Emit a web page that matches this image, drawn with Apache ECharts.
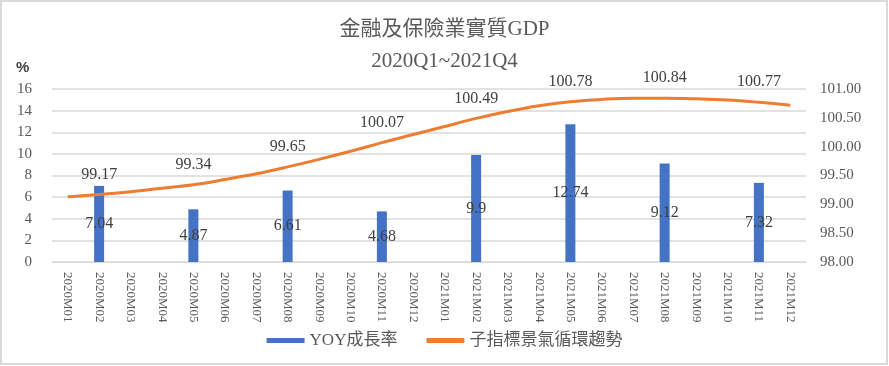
<!DOCTYPE html>
<html>
<head>
<meta charset="utf-8">
<script src="https://cdn.jsdelivr.net/npm/echarts@6/dist/echarts.min.js"></script>
<style>
html,body{margin:0;padding:0;background:#fff;}
#chart{width:889px;height:366px;}
</style>
</head>
<body>
<div id="chart"></div>
<script>
var categories = ['2020M01','2020M02','2020M03','2020M04','2020M05','2020M06','2020M07','2020M08','2020M09','2020M10','2020M11','2020M12',
                  '2021M01','2021M02','2021M03','2021M04','2021M05','2021M06','2021M07','2021M08','2021M09','2021M10','2021M11','2021M12'];
var yoyValues = [null,7.04,null,null,4.87,null,null,6.61,null,null,4.68,null,
                 null,9.9,null,null,12.74,null,null,9.12,null,null,7.32,null];
var cycleValues = [99.13,99.17,99.22,99.28,99.34,99.43,99.53,99.65,99.78,99.92,100.07,100.21,
                   100.35,100.49,100.61,100.71,100.78,100.82,100.84,100.84,100.83,100.81,100.77,100.72];
var cycleLabelIdx = [1,4,7,10,13,16,19,22];
var leftTicks = {min:0, max:16, interval:2};
var rightTicks = {min:98, max:101, interval:0.5};

var serif = '"Liberation Serif","DejaVu Serif",serif';
var textColor = '#595959';

var lineData = cycleValues.map(function(v,i){
  return {value:v, label:{show: cycleLabelIdx.indexOf(i) >= 0}};
});

var chart = echarts.init(document.getElementById('chart'));
chart.setOption({
  animation:false,
  graphic:[{
    type:'rect', shape:{x:1,y:1,width:886,height:363},
    style:{fill:'none', stroke:'#d9d9d9', lineWidth:2}, silent:true
  },{
    type:'text', left:16, top:60,
    style:{text:'%', font:'bold 15px "Liberation Sans",sans-serif', fill:'#404040'}
  }],
  title:{
    text:'金融及保險業實質GDP\n2020Q1~2021Q4',
    left:'center', top:8,
    textStyle:{fontFamily:'"Liberation Serif","Noto Sans CJK TC",serif', fontSize:21, fontWeight:'normal', color:textColor, lineHeight:32}
  },
  legend:{
    bottom:12, left:'center', itemGap:29, itemWidth:38, itemHeight:5,
    textStyle:{fontFamily:'"Liberation Serif","Noto Sans CJK TC",serif', fontSize:17, color:textColor},
    data:[{name:'YOY成長率', icon:'rect'},{name:'子指標景氣循環趨勢', icon:'roundRect'}]
  },
  grid:{left:52, right:83, top:89, bottom:104},
  xAxis:{
    type:'category', data:categories,
    axisLine:{lineStyle:{color:'#d9d9d9'}},
    axisTick:{show:false},
    axisLabel:{rotate:-90, interval:0, fontFamily:serif, fontSize:13, color:textColor, margin:10}
  },
  yAxis:[{
    type:'value', min:leftTicks.min, max:leftTicks.max, interval:leftTicks.interval,
    axisLabel:{fontFamily:serif, fontSize:15, color:textColor, margin:20},
    splitLine:{lineStyle:{color:'#d9d9d9', width:1.5}},
    axisLine:{show:false}, axisTick:{show:false}
  },{
    type:'value', min:rightTicks.min, max:rightTicks.max, interval:rightTicks.interval,
    axisLabel:{fontFamily:serif, fontSize:15, color:textColor, margin:14,
      formatter:function(v){return v.toFixed(2);}},
    splitLine:{show:false}, axisLine:{show:false}, axisTick:{show:false}
  }],
  series:[{
    name:'YOY成長率', type:'bar', data:yoyValues, barWidth:10,
    itemStyle:{color:'#4472C4'},
    label:{show:true, position:'inside', fontFamily:serif, fontSize:16, color:'#404040'}
  },{
    name:'子指標景氣循環趨勢', type:'line', yAxisIndex:1, data:lineData, smooth:0.4,
    symbol:'circle', symbolSize:0.1, showSymbol:true, showAllSymbol:true,
    lineStyle:{color:'#ED7D31', width:3}, itemStyle:{color:'#ED7D31'},
    label:{position:'top', distance:12, fontFamily:serif, fontSize:16, color:'#404040',
      formatter:function(p){return p.value.toFixed(2);}}
  }]
});
</script>
</body>
</html>
